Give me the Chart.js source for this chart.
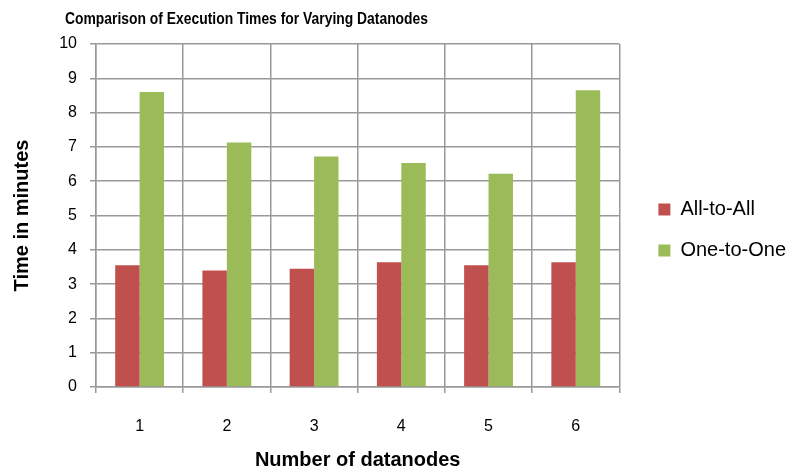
<!DOCTYPE html>
<html>
<head>
<meta charset="utf-8">
<script src="https://cdn.jsdelivr.net/npm/chart.js@4.4.1/dist/chart.umd.min.js"></script>
<style>
  html, body { margin: 0; padding: 0; background: #fff; }
  #wrap { width: 790px; height: 472px; position: relative; }
</style>
</head>
<body>
<div id="wrap"><canvas id="chart"></canvas></div>
<script>
const categories = ['1', '2', '3', '4', '5', '6'];
const allToAll = [3.55, 3.40, 3.45, 3.64, 3.55, 3.64];
const oneToOne = [8.60, 7.13, 6.72, 6.53, 6.22, 8.65];
const seriesNames = ['All-to-All', 'One-to-One'];
const chartTitle = 'Comparison of Execution Times for Varying Datanodes';

const fontFamily = '"Liberation Sans", Arial, sans-serif';
const gridColor = '#999999';

// title sits left of centre in the original and is a condensed face,
// so draw it here squeezed to the original width
const titlePlugin = {
    id: 'leftTitle',
    afterDraw(chart) {
        const c = chart.ctx;
        c.save();
        c.font = 'bold 17px ' + fontFamily;
        c.fillStyle = '#000';
        c.textBaseline = 'middle';
        const w = c.measureText(chartTitle).width;
        const sx = 363 / w;
        c.translate(65, 19);
        c.scale(sx, 1);
        c.fillText(chartTitle, 0, 0);
        c.restore();
    }
};

// nudge the legend: a bit up and right of where Chart.js puts it
const legendShift = {
    id: 'legendShift',
    afterLayout(chart) {
        const lg = chart.legend;
        if (lg) {
            lg.top -= 28;
            lg.bottom -= 28;
            lg.left += 18;
            lg.right += 18;
        }
    }
};

const ctx = document.getElementById('chart').getContext('2d');
new Chart(ctx, {
    type: 'bar',
    data: {
        labels: categories,
        datasets: [
            { label: seriesNames[0], data: allToAll, backgroundColor: '#C0504D', borderWidth: 0 },
            { label: seriesNames[1], data: oneToOne, backgroundColor: '#9BBB59', borderWidth: 0 }
        ]
    },
    options: {
        responsive: true,
        maintainAspectRatio: false,
        animation: false,
        layout: { padding: { top: 44, right: 12, bottom: 0, left: 0 } },
        datasets: {
            bar: { categoryPercentage: 0.56, barPercentage: 1.0 }
        },
        plugins: {
            title: { display: false },
            tooltip: { enabled: false },
            legend: {
                position: 'right',
                align: 'center',
                labels: {
                    boxWidth: 12,
                    boxHeight: 12,
                    padding: 21,
                    color: '#000',
                    font: { family: fontFamily, size: 20 }
                }
            }
        },
        scales: {
            x: {
                grid: { offset: true, color: gridColor, lineWidth: 1.5, tickLength: 6 },
                border: { color: gridColor, width: 1.5 },
                ticks: {
                    color: '#000',
                    padding: 24,
                    font: { family: fontFamily, size: 16 }
                },
                title: {
                    display: true,
                    text: 'Number of datanodes',
                    color: '#000',
                    font: { family: fontFamily, size: 20, weight: 'bold' },
                    padding: { top: 0, bottom: 0 }
                },
                afterFit(scale) { scale.height = 85; }
            },
            y: {
                min: 0,
                max: 10,
                grid: { color: gridColor, lineWidth: 1.5, tickLength: 6 },
                border: { color: gridColor, width: 1.5 },
                ticks: {
                    stepSize: 1,
                    color: '#000',
                    padding: 13,
                    font: { family: fontFamily, size: 16 }
                },
                title: {
                    display: true,
                    text: 'Time in minutes',
                    color: '#000',
                    font: { family: fontFamily, size: 20, weight: 'bold' },
                    padding: { top: 10, bottom: 0 }
                },
                afterFit(scale) { scale.width = 96; }
            }
        }
    },
    plugins: [titlePlugin, legendShift]
});
</script>
</body>
</html>
